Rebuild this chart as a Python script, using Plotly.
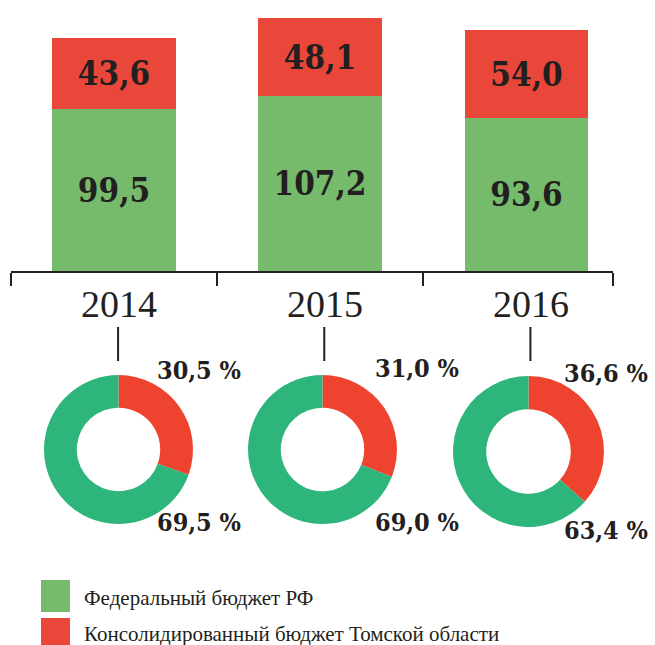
import plotly.graph_objects as go

# ---- data ----
years = ["2014", "2015", "2016"]
federal = [99.5, 107.2, 93.6]          # Федеральный бюджет РФ
regional = [43.6, 48.1, 54.0]          # Консолидированный бюджет Томской области
regional_share = [30.5, 31.0, 36.6]    # %
federal_share = [69.5, 69.0, 63.4]     # %
series_names = ["Федеральный бюджет РФ", "Консолидированный бюджет Томской области"]

W, H = 655, 645
GREEN_BAR = "#76bb6c"
RED_BAR = "#e9473a"
GREEN_PIE = "#2db57b"
RED_PIE = "#ee432e"
INK = "#231f20"
SERIF = "Liberation Serif"
BOLD_SERIF = "DejaVu Serif Condensed, DejaVu Serif, Liberation Serif"


def fmt(v):
    return f"{v:.1f}".replace(".", ",")


def py(px):
    return 1 - px / H


def pxx(px):
    return px / W


fig = go.Figure()
xs = list(range(len(years)))

fig.add_trace(go.Bar(
    x=xs, y=federal, width=0.6, name=series_names[0],
    marker=dict(color=GREEN_BAR, line=dict(width=0)),
    text=[fmt(v) for v in federal], textposition="inside",
    insidetextanchor="middle", textangle=0,
    textfont=dict(family=BOLD_SERIF, size=33, color=INK, weight="bold"),
    showlegend=False, hoverinfo="skip",
))
fig.add_trace(go.Bar(
    x=xs, y=regional, width=0.6, name=series_names[1],
    marker=dict(color=RED_BAR, line=dict(width=0)),
    text=[fmt(v) for v in regional], textposition="inside",
    insidetextanchor="middle", textangle=0,
    textfont=dict(family=BOLD_SERIF, size=33, color=INK, weight="bold"),
    showlegend=False, hoverinfo="skip",
))

# donuts
pie_centers = [(118.5, 449.5), (322.5, 449.5), (528.5, 451.5)]
pie_r = [74.5, 74.5, 75.5]
for i, (cx, cy) in enumerate(pie_centers):
    r = pie_r[i]
    fig.add_trace(go.Pie(
        values=[regional_share[i], federal_share[i]],
        labels=[series_names[1], series_names[0]],
        sort=False, direction="clockwise", rotation=0, hole=0.56,
        marker=dict(colors=[RED_PIE, GREEN_PIE], line=dict(width=0)),
        textinfo="none", hoverinfo="skip", showlegend=False,
        domain=dict(x=[pxx(cx - r), pxx(cx + r)], y=[py(cy + r), py(cy - r)]),
    ))

annotations = []
# year labels
for i, y in enumerate(years):
    annotations.append(dict(
        x=i, y=py(304), xref="x", yref="paper", text=y, showarrow=False,
        xanchor="center", yanchor="middle", xshift=5,
        font=dict(family=SERIF, size=38, color=INK),
    ))

# percent labels
label_x = [155, 373, 562]
top_y = [370, 368, 373]
bot_y = [522, 522, 530]
for i in range(len(years)):
    annotations.append(dict(
        x=pxx(label_x[i]), y=py(top_y[i]), xref="paper", yref="paper",
        text=fmt(regional_share[i]) + " %", showarrow=False,
        xanchor="left", yanchor="middle",
        font=dict(family=BOLD_SERIF, size=25, color=INK, weight="bold"),
    ))
    annotations.append(dict(
        x=pxx(label_x[i]), y=py(bot_y[i]), xref="paper", yref="paper",
        text=fmt(federal_share[i]) + " %", showarrow=False,
        xanchor="left", yanchor="middle",
        font=dict(family=BOLD_SERIF, size=25, color=INK, weight="bold"),
    ))

# legend text
annotations.append(dict(
    x=pxx(82), y=py(598), xref="paper", yref="paper", text=series_names[0],
    showarrow=False, xanchor="left", yanchor="middle",
    font=dict(family=SERIF, size=21, color=INK),
))
annotations.append(dict(
    x=pxx(82), y=py(634), xref="paper", yref="paper", text=series_names[1],
    showarrow=False, xanchor="left", yanchor="middle",
    font=dict(family=SERIF, size=21, color=INK),
))

shapes = []
# connectors from year to donut
for i in range(len(years)):
    shapes.append(dict(
        type="line", xref="x", xsizemode="pixel", xanchor=i, x0=4, x1=4,
        yref="paper", y0=py(327), y1=py(361),
        line=dict(color=INK, width=2),
    ))
# legend swatches
shapes.append(dict(type="rect", xref="paper", yref="paper",
                   x0=pxx(41), x1=pxx(70), y0=py(612), y1=py(580),
                   fillcolor=GREEN_BAR, line=dict(width=0)))
shapes.append(dict(type="rect", xref="paper", yref="paper",
                   x0=pxx(41), x1=pxx(70), y0=py(645), y1=py(618),
                   fillcolor=RED_BAR, line=dict(width=0)))

fig.update_layout(
    width=W, height=H, margin=dict(l=0, r=0, t=0, b=0),
    paper_bgcolor="white", plot_bgcolor="white",
    barmode="stack", bargap=0,
    xaxis=dict(domain=[pxx(11), pxx(613)], range=[-0.5, 2.42],
               showgrid=False, zeroline=False, showline=True,
               linecolor=INK, linewidth=2, ticks="outside",
               tickvals=[-0.5, 0.5, 1.5, 2.42], ticklen=13, tickwidth=2,
               tickcolor=INK, showticklabels=False, fixedrange=True),
    yaxis=dict(domain=[py(271), 1], range=[0, 271 / 1.63], visible=False,
               fixedrange=True),
    annotations=annotations, shapes=shapes,
    uniformtext=dict(mode=False),
)

fig.write_html(
    "out.html",
    config=dict(displayModeBar=False),
    post_script="document.body.style.margin='0px';document.body.style.overflow='hidden';",
)
